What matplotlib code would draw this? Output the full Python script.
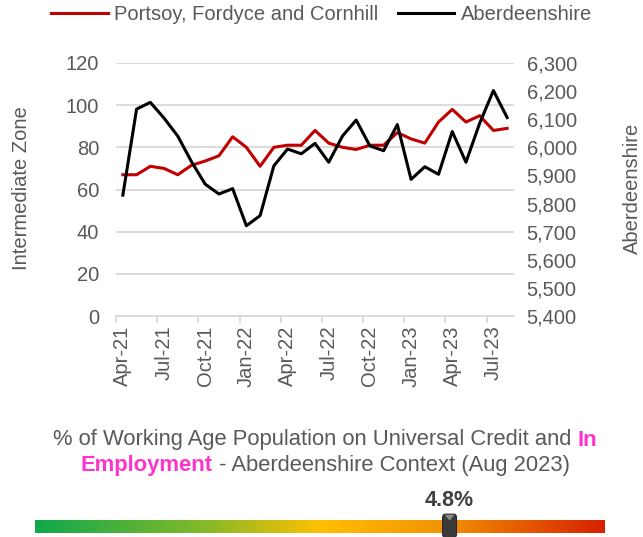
import numpy as np
import matplotlib.pyplot as plt
from matplotlib.colors import LinearSegmentedColormap
from matplotlib.patches import FancyBboxPatch, Polygon
from matplotlib.ticker import FuncFormatter, FixedLocator

plt.rcParams["font.family"] = ["Liberation Sans", "DejaVu Sans"]

months = ["Apr-21", "May-21", "Jun-21", "Jul-21", "Aug-21", "Sep-21", "Oct-21", "Nov-21",
          "Dec-21", "Jan-22", "Feb-22", "Mar-22", "Apr-22", "May-22", "Jun-22", "Jul-22",
          "Aug-22", "Sep-22", "Oct-22", "Nov-22", "Dec-22", "Jan-23", "Feb-23", "Mar-23",
          "Apr-23", "May-23", "Jun-23", "Jul-23", "Aug-23"]
zone = [67, 67, 71, 70, 67, 71.5, 73.5, 76, 85, 80, 71, 80, 81, 81, 88, 82,
        80, 79, 81, 81, 87, 84, 82, 92, 98, 92, 95, 88, 89]
shire = [5830, 6136, 6160, 6104, 6040, 5949, 5869, 5834, 5853, 5721, 5757, 5934,
         5994, 5977, 6014, 5947, 6040, 6097, 6005, 5988, 6081, 5886, 5931, 5904,
         6056, 5947, 6086, 6202, 6106]
zone_name = "Portsoy, Fordyce and Cornhill"
shire_name = "Aberdeenshire"

gauge_value = 4.8
gauge_lo, gauge_hi = 0.0, 6.6

W, H = 643, 537
grey = "#595959"
grid = "#D9D9D9"
fs = 14.5

fig = plt.figure(figsize=(W / 100, H / 100), dpi=100)
ax = fig.add_axes([116 / W, 1 - 316 / H, 398 / W, 253 / H])
ax2 = ax.twinx()

x = np.arange(len(months))
l1, = ax.plot(x, zone, color="#C00000", lw=2.2)
l2, = ax2.plot(x, shire, color="black", lw=2.2)

ax.set_xlim(-0.5, len(months) - 0.5)
ax.set_ylim(0, 120)
ax.set_yticks(range(0, 121, 20))
ax2.set_ylim(5400, 6300)
ax2.set_yticks(range(5400, 6301, 100))
ax2.yaxis.set_major_formatter(FuncFormatter(lambda v, p: f"{v:,.0f}"))

ax.yaxis.grid(True, color=grid, lw=1.3)
ax.set_axisbelow(True)
for s in ["top", "left", "right"]:
    ax.spines[s].set_visible(False)
    ax2.spines[s].set_visible(False)
ax2.spines["bottom"].set_visible(False)
ax.spines["bottom"].set_color(grid)
ax.spines["bottom"].set_linewidth(1.3)

ax.set_xticks(x[::3])
ax.set_xticklabels(months[::3], rotation=90)
ax.xaxis.set_minor_locator(FixedLocator(np.arange(-0.5, len(months), 3)))
ax.tick_params(axis="x", which="major", length=0, pad=7, labelsize=fs, labelcolor=grey)
ax.tick_params(axis="x", which="minor", length=5, color=grid, width=1.3)
ax.tick_params(axis="y", length=0, pad=12, labelsize=fs, labelcolor=grey)
ax2.tick_params(axis="y", length=0, pad=9, labelsize=fs, labelcolor=grey)

fig.text(22 / W, 1 - 188 / H, "Intermediate Zone", rotation=90, ha="center", va="center",
         fontsize=fs, color=grey)
fig.text(632 / W, 1 - 188 / H, "Aberdeenshire", rotation=90, ha="center", va="center",
         fontsize=fs, color=grey)

fig.legend([l1, l2], [zone_name, shire_name], loc="center", bbox_to_anchor=(0.5, 1 - 15 / H),
           ncol=2, frameon=False, fontsize=fs, labelcolor=grey, handlelength=2.8,
           handletextpad=0.3, columnspacing=1.0, borderpad=0)

# two-colour caption
renderer = fig.canvas.get_renderer()
pink = "#FF33CC"


def caption_line(parts, ypx):
    texts, widths = [], []
    for s, c, w in parts:
        t = fig.text(0, 1 - ypx / H, s, color=c, fontweight=w, fontsize=15.8, va="center")
        texts.append(t)
        widths.append(t.get_window_extent(renderer).width)
    x0 = 325 - sum(widths) / 2
    for t, w in zip(texts, widths):
        t.set_x(x0 / W)
        x0 += w


caption_line([("% of Working Age Population on Universal Credit and\u00a0", grey, "normal"),
              ("In", pink, "bold")], 440)
caption_line([("Employment", pink, "bold"),
              ("\u00a0- Aberdeenshire Context (Aug 2023)", grey, "normal")], 466)

# gauge bar
cmap = LinearSegmentedColormap.from_list(
    "gauge", [(0, "#10A84C"), (0.3, "#86B928"), (0.5, "#FFC000"), (0.72, "#F29200"), (1, "#D82000")])
gx = fig.add_axes([35 / W, 1 - 533 / H, 570 / W, 13 / H])
gx.imshow(np.linspace(0, 1, 256)[None, :], cmap=cmap, aspect="auto",
          extent=[gauge_lo, gauge_hi, 0, 1])
gx.set_xlim(gauge_lo, gauge_hi)
gx.set_ylim(0, 1)
gx.axis("off")
mw = 14 / 570 * (gauge_hi - gauge_lo)
gx.add_patch(FancyBboxPatch((gauge_value - mw / 2, -0.35), mw, 1.8,
                            boxstyle="round,pad=0,rounding_size=0.03", fc="#3A3A3A",
                            ec="#2A2A2A", lw=0.8, clip_on=False, mutation_aspect=10))
gx.add_patch(Polygon([[gauge_value - mw * 0.35, 1.4], [gauge_value + mw * 0.35, 1.4],
                      [gauge_value, 0.95]], closed=True, fc="#8A8A8A", ec="none", clip_on=False))
gx.text(gauge_value, 1 + 20 / 13, f"{gauge_value}%", ha="center", va="center",
        fontsize=15.5, fontweight="bold", color="#404040")

fig.savefig("out.png", dpi=100)
